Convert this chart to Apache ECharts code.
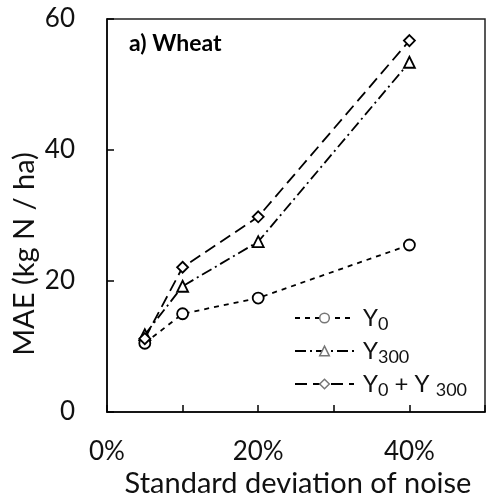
<!DOCTYPE html>
<html>
<head>
<meta charset="utf-8">
<script src="https://cdn.jsdelivr.net/npm/echarts@6/dist/echarts.min.js"></script>
<style>html,body{margin:0;padding:0;background:#fff;}#c{width:488px;height:503px;}</style>
</head>
<body>
<div id="c"></div>
<script>
const noiseLevels = [5, 10, 20, 40];
const y0Values = [10.5, 15.0, 17.4, 25.5];
const y300Values = [11.8, 19.2, 26.0, 53.4];
const y0y300Values = [11.2, 22.1, 29.8, 56.7];
const xTickLabels = {0: '0%', 20: '20%', 40: '40%'};

const FONT = "Lato, 'Open Sans', sans-serif";
const chart = echarts.init(document.getElementById('c'), null, {renderer: 'canvas'});

function pts(vals) { return noiseLevels.map((x, i) => [x, vals[i]]); }

const rich = { s: { fontSize: 18, fontFamily: FONT, color: '#111', padding: [12, 0, 0, 0] } };

chart.setOption({
  animation: false,
  backgroundColor: '#fff',
  grid: { left: 107, right: -2, top: 19, bottom: 91, show: true, borderColor: '#222', borderWidth: 1.5 },
  xAxis: {
    type: 'value', min: 0, max: 50, interval: 10,
    axisLine: { show: true, lineStyle: { color: '#000', width: 1.5 } },
    axisTick: { show: true, inside: true, length: 7, lineStyle: { color: '#000', width: 1.5 } },
    splitLine: { show: false },
    axisLabel: { margin: 27, fontSize: 26, fontFamily: FONT, color: '#111',
      formatter: v => xTickLabels[v] || '' }
  },
  yAxis: {
    type: 'value', min: 0, max: 60, interval: 20,
    axisLine: { show: true, lineStyle: { color: '#000', width: 1.5 } },
    axisTick: { show: true, inside: true, length: 7, lineStyle: { color: '#000', width: 1.5 } },
    splitLine: { show: false },
    axisLabel: { margin: 32, fontSize: 26, fontFamily: FONT, color: '#111' }
  },
  legend: {
    orient: 'vertical', left: 289, top: 301, itemWidth: 59, itemHeight: 12, itemGap: 6,
    textStyle: { fontSize: 24, fontFamily: FONT, color: '#111', rich: rich, padding: [0, 0, 0, 4] },
    itemStyle: { color: '#fff', borderColor: '#777', borderWidth: 1.5 },
    formatter: name => ({ 'Y0': 'Y{s|0}', 'Y300': 'Y{s|300}', 'Y0+Y300': 'Y{s|0} + Y {s|300}' })[name],
    data: ['Y0', 'Y300', 'Y0+Y300']
  },
  graphic: [
    { type: 'text', x: 129, y: 44, style: { text: 'a) Wheat', fontSize: 23, fontWeight: 'bold', fontFamily: FONT, fill: '#000', verticalAlign: 'middle' } },
    { type: 'text', x: 298, y: 484, style: { text: 'Standard deviation of noise', fontSize: 29, fontFamily: FONT, fill: '#111', align: 'center', verticalAlign: 'middle' } },
    { type: 'text', x: 25, y: 254, rotation: Math.PI / 2, style: { text: 'MAE (kg N / ha)', fontSize: 29, fontFamily: FONT, fill: '#111', align: 'center', verticalAlign: 'middle' } }
  ],
  series: [
    { name: 'Y0', type: 'line', data: pts(y0Values), symbol: 'circle', symbolSize: 11,
      lineStyle: { color: '#000', width: 1.8, type: [5, 5] },
      itemStyle: { color: '#fff', borderColor: '#000', borderWidth: 1.8 } },
    { name: 'Y300', type: 'line', data: pts(y300Values), symbol: 'triangle', symbolSize: 11,
      lineStyle: { color: '#000', width: 1.8, type: [11, 4, 2, 4] },
      itemStyle: { color: '#fff', borderColor: '#000', borderWidth: 1.8 } },
    { name: 'Y0+Y300', type: 'line', data: pts(y0y300Values), symbol: 'diamond', symbolSize: 11,
      lineStyle: { color: '#000', width: 1.8, type: [12, 6] },
      itemStyle: { color: '#fff', borderColor: '#000', borderWidth: 1.8 } }
  ]
});
</script>
</body>
</html>
